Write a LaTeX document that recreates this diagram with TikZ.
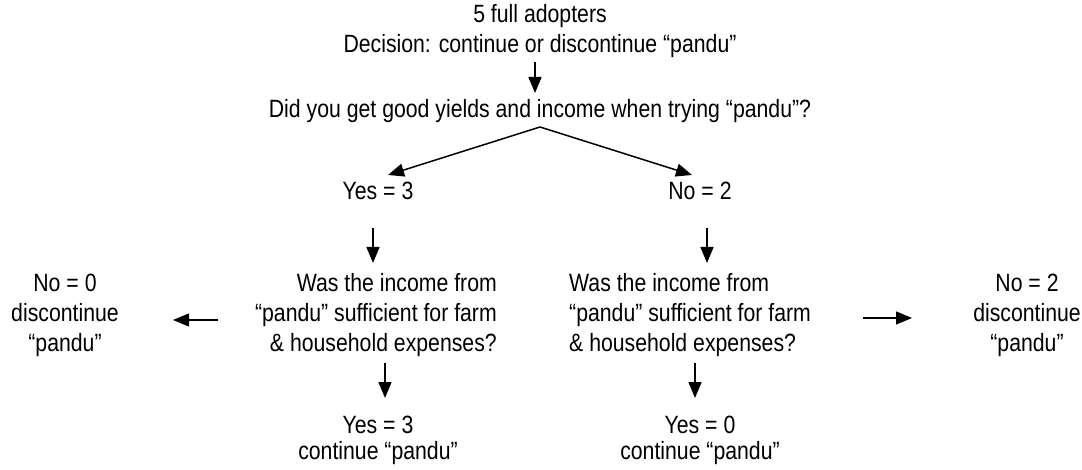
\documentclass[tikz,border=0pt]{standalone}
\usepackage{fontspec}
\setmainfont{Liberation Sans}[FakeStretch=0.85]
\usetikzlibrary{arrows.meta,calc}

\begin{document}
\begin{tikzpicture}[x=1pt,y=-1pt,
  lbl/.style={inner sep=0pt, font=\fontsize{25}{30}\selectfont, align=center},
  arr/.style={line width=1.5pt, -{Triangle[length=16pt,width=13pt]}}]
\useasboundingbox (0,0) rectangle (1082,470);

% top of the tree (base anchor = baseline of the last line)
\node[lbl, anchor=base] (top) at (540,53) {5 full adopters\\Decision: continue or discontinue “pandu”};
\node[lbl, anchor=base] (q0) at (540,118) {Did you get good yields and income when trying “pandu”?};

% first answer level
\node[lbl, anchor=base] (yes1) at (378,200) {Yes = 3};
\node[lbl, anchor=base] (no1) at (700,200) {No = 2};

% second question, both branches
\node[lbl, anchor=base east, align=right] (qL) at (497,352) {Was the income from\\“pandu” sufficient for farm\\\& household expenses?};
\node[lbl, anchor=base west, align=left] (qR) at (569,352) {Was the income from\\“pandu” sufficient for farm\\\& household expenses?};

% outcomes
\node[lbl, anchor=base] (noL) at (65,352) {No = 0\\discontinue\\“pandu”};
\node[lbl, anchor=base] (noR) at (1027,352) {No = 2\\discontinue\\“pandu”};
\node[lbl, anchor=base, font=\fontsize{25}{26}\selectfont] (yesL) at (378,459) {Yes = 3\\continue “pandu”};
\node[lbl, anchor=base, font=\fontsize{25}{26}\selectfont] (yesR) at (700,459) {Yes = 0\\continue “pandu”};

% connectors
\draw[arr] ($(top.base)+(-5,9)$) -- ($(q0.base)+(-5,-25)$);
\draw[arr] ($(q0.base)+(0,9)$) -- ($(yes1.base)+(10,-25)$);
\draw[arr] ($(q0.base)+(0,9)$) -- ($(no1.base)+(-8,-25)$);
\draw[arr] ($(yes1.base)+(-5,28)$) -- ($(yes1.base)+(-5,63)$);
\draw[arr] ($(no1.base)+(7,28)$) -- ($(no1.base)+(7,63)$);
\draw[arr] ($(noL.base)+(153,-32)$) -- ($(noL.base)+(108,-32)$);
\draw[arr] ($(noR.base)+(-164,-34)$) -- ($(noR.base)+(-115,-34)$);
\draw[arr] ($(yesL.base)+(7,-96)$) -- ($(yesL.base)+(7,-61)$);
\draw[arr] ($(yesR.base)+(-5,-96)$) -- ($(yesR.base)+(-5,-61)$);
\end{tikzpicture}
\end{document}
